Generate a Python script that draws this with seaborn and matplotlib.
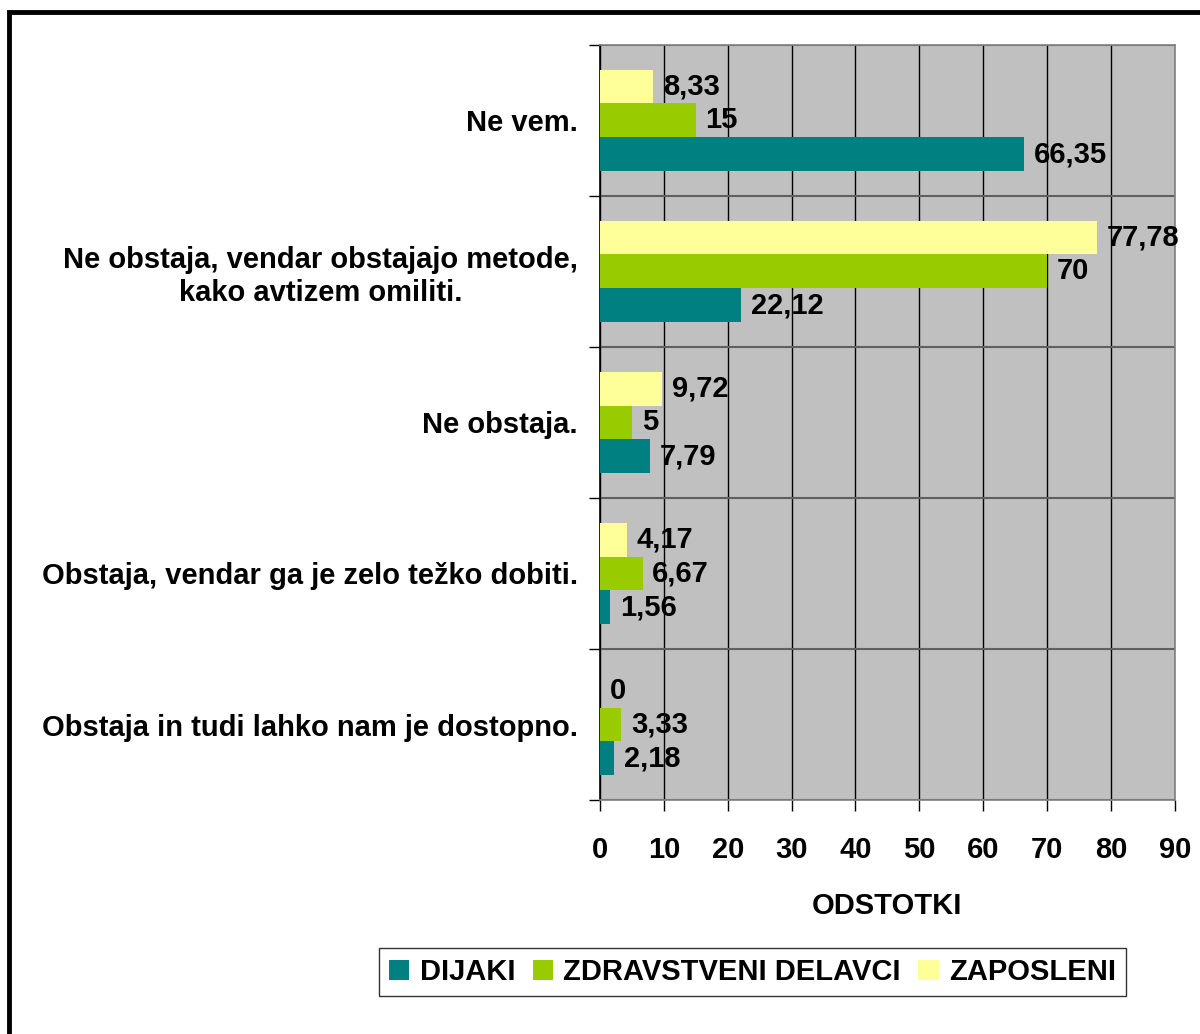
import matplotlib
matplotlib.use("Agg")
import matplotlib.pyplot as plt
from matplotlib.patches import Rectangle, Patch
import seaborn as sns
import pandas as pd

categories = [
    "Ne vem.",
    "Ne obstaja, vendar obstajajo metode,\nkako avtizem omiliti.",
    "Ne obstaja.",
    "Obstaja, vendar ga je zelo težko dobiti.",
    "Obstaja in tudi lahko nam je dostopno.",
]
dijaki = [66.35, 22.12, 7.79, 1.56, 2.18]
zdravstveni = [15, 70, 5, 6.67, 3.33]
zaposleni = [8.33, 77.78, 9.72, 4.17, 0]

groups = ["DIJAKI", "ZDRAVSTVENI DELAVCI", "ZAPOSLENI"]
colors = {"DIJAKI": "#008080", "ZDRAVSTVENI DELAVCI": "#99CC00", "ZAPOSLENI": "#FFFF99"}

rows = []
for g, vals in zip(groups, [dijaki, zdravstveni, zaposleni]):
    for c, v in zip(categories, vals):
        rows.append({"kategorija": c, "skupina": g, "odstotki": v})
df = pd.DataFrame(rows)

sns.set_theme(style="white")
plt.rcParams["font.family"] = ["Liberation Sans", "DejaVu Sans"]
plt.rcParams["font.weight"] = "bold"
plt.rcParams["text.color"] = "black"
plt.rcParams["axes.labelcolor"] = "black"
plt.rcParams["xtick.color"] = "black"
plt.rcParams["ytick.color"] = "black"
FS = 21

fig = plt.figure(figsize=(12, 10.34), dpi=100)
ax = fig.add_axes([0.5, 0.2263, 0.479, 0.7302])
ax.set_facecolor("#C0C0C0")

hue_order = ["ZAPOSLENI", "ZDRAVSTVENI DELAVCI", "DIJAKI"]
sns.barplot(data=df, y="kategorija", x="odstotki", hue="skupina", order=categories,
            hue_order=hue_order, palette=colors, width=0.675, orient="h",
            saturation=1, errorbar=None, legend=False, ax=ax, zorder=3,
            linewidth=0, edgecolor="none")

def fmt(v):
    if float(v).is_integer():
        return str(int(v))
    return f"{v:.2f}".replace(".", ",")

for cont, g in zip(ax.containers, hue_order):
    vals = df[df.skupina == g].set_index("kategorija").loc[categories, "odstotki"]
    ax.bar_label(cont, labels=[fmt(v) for v in vals], padding=7,
                 fontsize=FS, fontweight="bold", color="black", zorder=4)

ax.set_xlim(0, 90)
ax.set_ylim(len(categories) - 0.5, -0.5)
ax.set_xticks(range(0, 91, 10))
ax.set_xticklabels([str(t) for t in range(0, 91, 10)], fontsize=FS, fontweight="bold")
ax.tick_params(axis="x", length=8, width=1, color="black", pad=18, bottom=True)
ax.grid(axis="x", color="black", linewidth=1, zorder=1)

ax.set_yticks(range(len(categories)))
ax.set_yticklabels(categories, fontsize=FS, fontweight="bold", multialignment="center")
ax.tick_params(axis="y", which="major", length=0, pad=16)
ax.set_yticks([i - 0.5 for i in range(len(categories) + 1)], minor=True)
ax.tick_params(axis="y", which="minor", length=8, width=1, color="black", left=True)
ax.grid(axis="y", which="minor", color="#606060", linewidth=1.5, zorder=1)
ax.grid(axis="y", which="major", visible=False)

ax.set_xlabel("ODSTOTKI", fontsize=FS, fontweight="bold", labelpad=20)
ax.set_ylabel("")

ax.spines["left"].set_color("black")
ax.spines["left"].set_linewidth(1.2)
for s in ["bottom", "top", "right"]:
    ax.spines[s].set_color("#808080")
    ax.spines[s].set_linewidth(1.2)

handles = [Patch(facecolor=colors[g], edgecolor="none", label=g) for g in groups]
leg = fig.legend(handles=handles, loc="center", bbox_to_anchor=(0.627, 0.06), ncol=3,
                 prop={"size": FS, "weight": "bold"}, frameon=True, fancybox=False,
                 handlelength=0.7, handleheight=0.7, handletextpad=0.35,
                 columnspacing=0.6, borderpad=0.35)
leg.get_frame().set_edgecolor("black")
leg.get_frame().set_linewidth(1)

fig.patches.append(Rectangle((9 / 1200, -0.1), 1.2, 1.1 - 12 / 1034, transform=fig.transFigure,
                             fill=False, edgecolor="black", linewidth=3.5))

fig.savefig("out.png", dpi=100)
